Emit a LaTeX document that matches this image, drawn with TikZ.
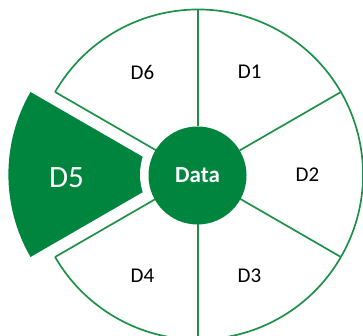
\documentclass[tikz,border=0pt]{standalone}
\usepackage{fontspec}
\setmainfont{Carlito}
\usetikzlibrary{calc}
\definecolor{dgreen}{RGB}{0,133,62}
\definecolor{lgreen}{RGB}{30,145,72}
\tikzset{
  ring/.style={draw=lgreen, line width=1.7pt},
  lab/.style={inner sep=0pt, anchor=center, font=\fontsize{21}{21}\selectfont, text=black},
}
\begin{document}
\begin{tikzpicture}[x=1pt,y=1pt]
\useasboundingbox (0,0) rectangle (363,336);
\clip (0,0) rectangle (363,336);
\coordinate (C) at (198,161.5);
\coordinate (S) at (173.4,161.5);
% exploded sector D5
\fill[dgreen] (S) -- ($(S)+(150:165)$) arc[start angle=150, end angle=210, radius=165] -- cycle;
\fill[white] (C) circle[radius=58];
% wheel outline
\draw[ring] ($(C)+(150:165)$) arc[start angle=150, end angle=-150, radius=165];
\foreach \a in {90,30,-30,-90,150,210}
  \draw[ring] ($(C)+(\a:48)$) -- ($(C)+(\a:165)$);
% centre
\node[circle, fill=dgreen, minimum size=98pt, inner sep=0pt, text=white,
      font=\fontsize{23}{23}\selectfont\bfseries] (data) at (197.5,160.5) {Data};
% labels
\node[lab] (d1) at (249.7,264) {D1};
\node[lab] (d6) at (142.5,264) {D6};
\node[lab] (d2) at (307.5,161.5) {D2};
\node[lab] (d3) at (249.5,60.5) {D3};
\node[lab] (d4) at (142.5,60.5) {D4};
\node[lab, text=white, font=\fontsize{31}{31}\selectfont] (d5) at (66.4,158.3) {D5};
\end{tikzpicture}
\end{document}
